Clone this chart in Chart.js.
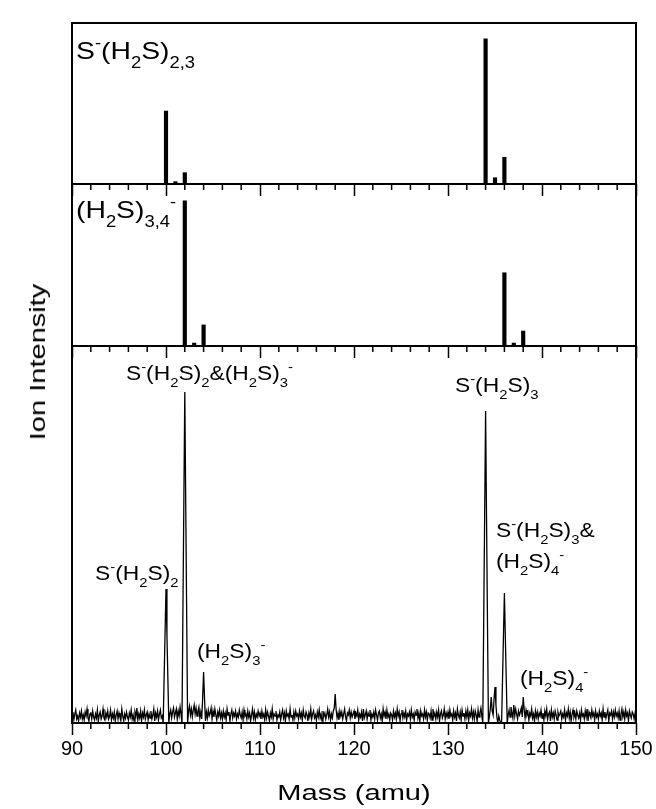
<!DOCTYPE html>
<html><head><meta charset="utf-8">
<script src="https://cdn.jsdelivr.net/npm/chart.js@4.4.1/dist/chart.umd.min.js"></script>
<style>
html,body{margin:0;padding:0;background:#fff;}
#wrap{position:relative;width:656px;height:809px;overflow:hidden;background:#fff;}
canvas{position:absolute;left:0;top:0;}
.ttl{position:absolute;font-family:"Liberation Sans",Arial,sans-serif;font-size:22px;line-height:1;white-space:nowrap;color:#000;}
</style></head><body>
<div id="wrap">
<canvas id="c1" width="656" height="809"></canvas>
<canvas id="c2" width="656" height="809"></canvas>
<canvas id="c3" width="656" height="809"></canvas>
<div class="ttl" id="ylab" style="left:38px;top:362px;transform:translate(-50%,-50%) rotate(-90deg) scaleX(1.32);">Ion Intensity</div>
<div class="ttl" id="xlab" style="left:354px;top:793px;transform:translate(-50%,-50%) scaleX(1.32);">Mass (amu)</div>
</div>
<script>
// ---------- data ----------
const massMin = 90, massMax = 150;
const majorTicks = [90, 100, 110, 120, 130, 140, 150];
const minorTicks = [92,94,96,98,102,104,106,108,112,114,116,118,122,124,126,128,132,134,136,138,142,144,146,148];

// simulated stick spectrum S-(H2S)2,3 (relative intensity, %)
const topMass = [100, 101, 102, 134, 135, 136];
const topIntensity = [50.3, 1.6, 7.8, 100, 4.3, 18.4];

// simulated stick spectrum (H2S)3,4- (relative intensity, %)
const midMass = [102, 103, 104, 136, 137, 138];
const midIntensity = [100, 2, 14.5, 50.4, 2, 10.3];

// measured spectrum, 90.0 ... 150.0 amu in steps of 0.1 amu (counts)
const spectrumStart = 90;
const spectrumStep = 0.1;
const spectrumCounts = [
5,11,3,9,13,4,7,2,10,6,12,4,8,3,11,7,14,5,2,9,
10,4,12,6,3,9,5,13,2,8,11,4,7,14,5,3,10,6,12,4,
7,13,3,9,5,11,2,8,12,4,10,6,3,14,7,2,9,5,11,6,
3,10,6,13,4,8,2,11,7,15,3,9,5,12,2,10,6,13,4,8,
11,3,9,5,12,4,8,14,2,10,6,12,3,9,13,5,7,0,45,90,
134,88,44,0,9,13,5,11,15,6,10,14,4,12,7,16,9,0,112,222,
331,218,108,0,12,17,8,14,6,13,18,9,15,7,12,16,5,11,4,25,
51,24,2,11,5,13,7,10,15,4,12,6,14,8,3,11,7,13,5,10,
4,12,6,10,3,14,8,11,2,9,13,5,10,7,12,4,9,6,13,8,
5,11,3,13,7,9,4,12,6,10,2,8,14,5,11,3,9,6,12,7,
10,4,12,6,9,3,13,5,11,7,2,10,6,14,4,9,7,12,3,8,
6,11,3,9,13,5,10,2,12,7,9,4,14,6,8,3,11,5,12,7,
9,4,12,6,10,3,13,7,5,11,8,2,10,6,14,4,9,12,5,8,
3,11,6,13,5,9,2,12,7,10,4,8,14,6,11,3,9,5,12,15,
29,13,5,10,3,12,7,11,4,9,14,6,2,10,8,13,5,11,6,9,
12,4,10,7,13,3,9,6,11,2,14,5,8,12,4,10,7,13,3,9,
6,11,4,13,8,3,10,12,5,9,2,14,7,11,4,13,6,9,3,10,
8,3,12,6,10,4,14,7,11,2,9,13,5,10,6,12,3,9,7,11,
4,13,6,9,3,11,8,14,5,10,2,12,7,9,4,13,6,11,3,10,
9,5,12,3,14,7,10,4,11,6,13,2,9,12,5,8,14,4,10,6,
11,4,13,7,9,3,12,6,10,2,14,8,5,11,3,13,7,10,4,12,
6,13,3,10,7,14,5,11,4,12,8,2,13,6,10,15,7,0,104,208,
312,205,100,0,6,14,26,12,8,24,36,18,6,0,7,3,0,0,43,87,
130,86,42,0,8,13,6,16,10,5,18,7,14,9,4,12,8,11,15,6,
26,14,5,13,8,11,3,10,7,14,5,9,2,12,6,11,4,10,7,13,
5,10,3,12,7,14,4,9,11,2,13,6,10,4,12,8,3,11,7,9,
12,4,9,6,13,3,10,7,14,5,11,2,9,13,6,10,4,12,8,5,
10,3,13,7,9,4,12,6,14,2,11,8,5,13,7,10,3,12,6,9,
4,12,7,10,3,14,6,11,5,9,13,2,10,8,12,4,11,6,13,7,
10,5,12,3,9,14,6,11,4,13,7,10,2,12,8,5,11,9,4,10,
7
];

// panel labels (text segments: n = normal, sub, sup)
const topTitle = [['S','n'],['-','sup'],['(H','n'],['2','sub'],['S)','n'],['2,3','sub']];
const midTitle = [['(H','n'],['2','sub'],['S)','n'],['3,4','sub'],['-','sup']];

// peak annotations in the measured panel: anchor mass, anchor level (counts), text
const annMass  = [92.45, 95.74, 103.3, 130.74, 135.1, 135.1, 137.66];
const annLevel = [143, 343, 65, 331, 186, 155, 38];
const annText = [
  [['S','n'],['-','sup'],['(H','n'],['2','sub'],['S)','n'],['2','sub']],
  [['S','n'],['-','sup'],['(H','n'],['2','sub'],['S)','n'],['2','sub'],['&(H','n'],['2','sub'],['S)','n'],['3','sub'],['-','sup']],
  [['(H','n'],['2','sub'],['S)','n'],['3','sub'],['-','sup']],
  [['S','n'],['-','sup'],['(H','n'],['2','sub'],['S)','n'],['3','sub']],
  [['S','n'],['-','sup'],['(H','n'],['2','sub'],['S)','n'],['3','sub'],['&','n']],
  [['(H','n'],['2','sub'],['S)','n'],['4','sub'],['-','sup']],
  [['(H','n'],['2','sub'],['S)','n'],['4','sub'],['-','sup']]
];

// ---------- helpers ----------
const FONT = '"Liberation Sans", Arial, sans-serif';
function drawRich(ctx, x, y, segs, size, sx) {
  ctx.save();
  ctx.translate(x, y);
  ctx.scale(sx, 1);
  ctx.fillStyle = '#000';
  ctx.textBaseline = 'alphabetic';
  ctx.textAlign = 'left';
  let cx = 0;
  for (const [t, k] of segs) {
    const fs = k === 'n' ? size : size * 0.65;
    const dy = k === 'sub' ? size * 0.38 : (k === 'sup' ? -size * 0.45 : 0);
    ctx.font = fs + 'px ' + FONT;
    ctx.fillText(t, cx, dy);
    cx += ctx.measureText(t).width;
  }
  ctx.restore();
}

const framePlugin = {
  id: 'frame',
  afterDraw(chart) {
    const { ctx, chartArea: a, scales: { x } } = chart;
    ctx.save();
    ctx.strokeStyle = '#000';
    ctx.lineWidth = 2;
    ctx.strokeRect(a.left, a.top, a.right - a.left, a.bottom - a.top);
    ctx.lineWidth = 1.5;
    for (const v of minorTicks) {
      const px = x.getPixelForValue(v);
      ctx.beginPath();
      ctx.moveTo(px, a.bottom);
      ctx.lineTo(px, a.bottom + 6);
      ctx.stroke();
    }
    ctx.restore();
  }
};

function titlePlugin(segs, dx, dy) {
  return {
    id: 'paneltitle',
    afterDraw(chart) {
      const a = chart.chartArea;
      drawRich(chart.ctx, a.left + dx, a.top + dy, segs, 24, 1.18);
    }
  };
}

const annPlugin = {
  id: 'ann',
  afterDraw(chart) {
    const { ctx, scales: { x, y } } = chart;
    annText.forEach((segs, i) => {
      drawRich(ctx, x.getPixelForValue(annMass[i]), y.getPixelForValue(annLevel[i]), segs, 19.5, 1.17);
    });
  }
};

function xScale(showLabels, height) {
  return {
    type: 'linear', min: massMin, max: massMax, offset: false,
    afterBuildTicks(s) { s.ticks = majorTicks.map(v => ({ value: v })); },
    ticks: {
      display: showLabels, autoSkip: false, maxRotation: 0, padding: 2,
      color: '#000', font: { family: FONT, size: 20 }
    },
    grid: { display: true, offset: false, drawOnChartArea: false, drawTicks: true, tickLength: 12, tickWidth: 1.5, tickColor: '#000' },
    border: { display: false },
    afterFit(s) { s.height = height; }
  };
}

function stickChart(id, masses, vals, padTop, padBottom, ymax, title, tdx, tdy) {
  return new Chart(document.getElementById(id), {
    type: 'bar',
    data: { datasets: [{ data: masses.map((m, i) => ({ x: m, y: vals[i] })), backgroundColor: '#000', borderWidth: 0, barThickness: 3.5 }] },
    options: {
      responsive: false, animation: false, events: [],
      layout: { padding: { top: padTop, left: 72, right: 20, bottom: padBottom } },
      plugins: { legend: { display: false }, tooltip: { enabled: false } },
      scales: { x: xScale(false, 0), y: { display: false, min: 0, max: ymax } }
    },
    plugins: [framePlugin, titlePlugin(title, tdx, tdy)]
  });
}

stickChart('c1', topMass, topIntensity, 23, 809 - 184, 111, topTitle, 4, 36);
stickChart('c2', midMass, midIntensity, 184, 809 - 346, 111.5, midTitle, 4, 34);

const spectrumPoints = spectrumCounts.map((c, i) => ({ x: Math.round((spectrumStart + i * spectrumStep) * 10) / 10, y: c }));

new Chart(document.getElementById('c3'), {
  type: 'line',
  data: { datasets: [{ data: spectrumPoints, borderColor: '#000', borderWidth: 1.3, pointRadius: 0, tension: 0, fill: false }] },
  options: {
    responsive: false, animation: false, events: [],
    layout: { padding: { top: 346, left: 72, right: 20, bottom: 809 - 723 - 40 } },
    plugins: { legend: { display: false }, tooltip: { enabled: false } },
    scales: { x: xScale(true, 40), y: { display: false, min: 0, max: 377 } }
  },
  plugins: [framePlugin, annPlugin]
});
</script>
</body></html>
